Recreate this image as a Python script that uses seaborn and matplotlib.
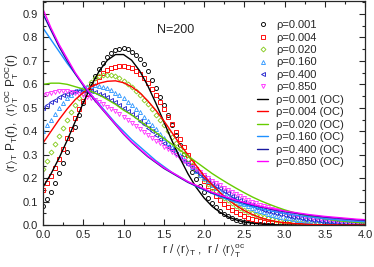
import numpy as np
import pandas as pd
import matplotlib
matplotlib.use("Agg")
import matplotlib.pyplot as plt
import seaborn as sns
from matplotlib.ticker import MultipleLocator

# x grids (r / <r>_T): symbols every 0.05, OC curves every 0.1
r_sim = [round(0.05 * i, 2) for i in range(81)]
r_oc = [round(0.1 * i, 1) for i in range(41)]

rho_labels = ["0.001", "0.004", "0.020", "0.160", "0.400", "0.850"]

# simulation data (symbols), 10 values per row = 0.5 in r
sim_0001 = [0.08, 0.11, 0.14, 0.18, 0.22, 0.265, 0.31, 0.365, 0.42, 0.47,
            0.52, 0.56, 0.60, 0.635, 0.665, 0.69, 0.715, 0.732, 0.745, 0.752,
            0.755, 0.75, 0.74, 0.727, 0.71, 0.685, 0.655, 0.62, 0.585, 0.548,
            0.51, 0.468, 0.425, 0.382, 0.34, 0.302, 0.265, 0.228, 0.195, 0.166,
            0.14, 0.116, 0.095, 0.077, 0.062, 0.049, 0.038, 0.029, 0.022, 0.016,
            0.012, 0.009, 0.006, 0.004, 0.003, 0.002, 0.001, 0.001]
sim_0004 = [0.15, 0.18, 0.21, 0.245, 0.28, 0.325, 0.37, 0.41, 0.455, 0.495,
            0.53, 0.56, 0.59, 0.612, 0.63, 0.647, 0.66, 0.668, 0.675, 0.678,
            0.68, 0.676, 0.67, 0.658, 0.645, 0.626, 0.605, 0.58, 0.555, 0.525,
            0.495, 0.462, 0.43, 0.397, 0.365, 0.332, 0.30, 0.27, 0.24, 0.214,
            0.19, 0.167, 0.145, 0.126, 0.108, 0.092, 0.078, 0.066, 0.055, 0.046,
            0.038, 0.032, 0.026, 0.021, 0.017, 0.014, 0.011, 0.009, 0.007, 0.005,
            0.004, 0.003, 0.002, 0.002, 0.001, 0.001]
sim_0020 = [0.24, 0.275, 0.31, 0.345, 0.38, 0.415, 0.45, 0.48, 0.51, 0.54,
            0.565, 0.59, 0.61, 0.625, 0.635, 0.64, 0.64, 0.638, 0.635, 0.626,
            0.615, 0.603, 0.59, 0.573, 0.555, 0.535, 0.515, 0.493, 0.47, 0.448,
            0.425, 0.40, 0.375, 0.35, 0.325, 0.302, 0.28, 0.257, 0.235, 0.215,
            0.195, 0.177, 0.16, 0.145, 0.13, 0.117, 0.105, 0.094, 0.083, 0.074,
            0.065, 0.057, 0.05, 0.044, 0.038, 0.033, 0.029, 0.025, 0.022, 0.019,
            0.016, 0.014, 0.012, 0.010, 0.009, 0.007, 0.006, 0.005, 0.004, 0.0035,
            0.003, 0.0025, 0.002, 0.0015, 0.001]
sim_0160 = [0.40, 0.425, 0.45, 0.475, 0.50, 0.52, 0.54, 0.555, 0.57, 0.578,
            0.585, 0.59, 0.595, 0.596, 0.595, 0.59, 0.585, 0.575, 0.565, 0.553,
            0.54, 0.525, 0.51, 0.495, 0.48, 0.462, 0.445, 0.428, 0.41, 0.39,
            0.37, 0.352, 0.335, 0.317, 0.30, 0.282, 0.265, 0.247, 0.23, 0.215,
            0.20, 0.186, 0.172, 0.159, 0.147, 0.136, 0.125, 0.115, 0.105, 0.096,
            0.088, 0.08, 0.073, 0.066, 0.06, 0.054, 0.049, 0.044, 0.04, 0.036,
            0.032, 0.029, 0.026, 0.023, 0.021, 0.019, 0.017, 0.015, 0.013, 0.0115,
            0.010, 0.009, 0.008, 0.007, 0.006, 0.005, 0.004, 0.0035, 0.003, 0.0025,
            0.002]
sim_0400 = [0.50, 0.513, 0.525, 0.535, 0.545, 0.553, 0.56, 0.566, 0.57, 0.573,
            0.575, 0.573, 0.57, 0.566, 0.56, 0.553, 0.545, 0.535, 0.525, 0.513,
            0.50, 0.488, 0.475, 0.46, 0.445, 0.43, 0.415, 0.40, 0.385, 0.367,
            0.35, 0.335, 0.32, 0.305, 0.29, 0.275, 0.26, 0.246, 0.232, 0.218,
            0.205, 0.192, 0.18, 0.168, 0.157, 0.146, 0.136, 0.126, 0.117, 0.108,
            0.10, 0.092, 0.085, 0.078, 0.072, 0.066, 0.061, 0.056, 0.051, 0.047,
            0.043, 0.039, 0.036, 0.033, 0.030, 0.027, 0.025, 0.023, 0.021, 0.019,
            0.017, 0.015, 0.014, 0.012, 0.011, 0.010, 0.009, 0.008, 0.007, 0.0065,
            0.006]
sim_0850 = [0.555, 0.56, 0.565, 0.568, 0.57, 0.571, 0.57, 0.568, 0.565, 0.56,
            0.555, 0.548, 0.54, 0.533, 0.525, 0.515, 0.505, 0.495, 0.485, 0.473,
            0.46, 0.448, 0.435, 0.423, 0.41, 0.398, 0.385, 0.373, 0.36, 0.348,
            0.335, 0.323, 0.31, 0.298, 0.285, 0.272, 0.26, 0.248, 0.237, 0.226,
            0.215, 0.202, 0.19, 0.18, 0.17, 0.16, 0.15, 0.141, 0.132, 0.123,
            0.115, 0.107, 0.10, 0.093, 0.087, 0.081, 0.075, 0.07, 0.065, 0.06,
            0.056, 0.052, 0.048, 0.044, 0.041, 0.038, 0.035, 0.032, 0.03, 0.027,
            0.025, 0.023, 0.021, 0.019, 0.018, 0.016, 0.015, 0.013, 0.012, 0.011,
            0.010]

# OC approximation (lines)
oc_0001 = [0.162, 0.219, 0.286, 0.361, 0.441, 0.521, 0.595, 0.658, 0.703, 0.727, 0.727,
           0.703, 0.658, 0.595, 0.521, 0.441, 0.361, 0.286, 0.219, 0.162, 0.116,
           0.080, 0.054, 0.035, 0.022, 0.013, 0.008, 0.0045, 0.0025, 0.0013, 0.0007,
           0.0, 0.0, 0.0, 0.0, 0.0, 0.0, 0.0, 0.0, 0.0, 0.0]
oc_0004 = [0.35, 0.40, 0.45, 0.495, 0.535, 0.565, 0.59, 0.605, 0.613, 0.615, 0.607,
           0.59, 0.565, 0.53, 0.49, 0.445, 0.395, 0.345, 0.30, 0.255, 0.21,
           0.172, 0.138, 0.108, 0.083, 0.062, 0.045, 0.032, 0.022, 0.015, 0.010,
           0.007, 0.005, 0.003, 0.002, 0.001, 0.001, 0.0, 0.0, 0.0, 0.0]
oc_0020 = [0.60, 0.605, 0.605, 0.60, 0.59, 0.58, 0.57, 0.555, 0.535, 0.515, 0.49,
           0.47, 0.445, 0.42, 0.395, 0.37, 0.345, 0.32, 0.295, 0.27, 0.245,
           0.22, 0.198, 0.177, 0.157, 0.138, 0.12, 0.104, 0.09, 0.077, 0.065,
           0.055, 0.046, 0.038, 0.032, 0.026, 0.021, 0.017, 0.014, 0.011, 0.009]
oc_0160 = [0.84, 0.79, 0.74, 0.69, 0.645, 0.60, 0.555, 0.515, 0.475, 0.435, 0.40,
           0.365, 0.335, 0.305, 0.275, 0.25, 0.225, 0.205, 0.185, 0.165, 0.15,
           0.135, 0.12, 0.108, 0.097, 0.087, 0.078, 0.070, 0.062, 0.056, 0.050,
           0.044, 0.039, 0.035, 0.031, 0.027, 0.024, 0.021, 0.018, 0.016, 0.014]
oc_0400 = [0.90, 0.83, 0.76, 0.70, 0.645, 0.595, 0.55, 0.508, 0.468, 0.428, 0.388,
           0.353, 0.322, 0.292, 0.267, 0.242, 0.222, 0.202, 0.182, 0.167, 0.152,
           0.137, 0.125, 0.114, 0.103, 0.094, 0.085, 0.077, 0.070, 0.063, 0.057,
           0.052, 0.047, 0.042, 0.038, 0.034, 0.031, 0.028, 0.025, 0.022, 0.020]
oc_0850 = [0.92, 0.84, 0.77, 0.71, 0.65, 0.60, 0.555, 0.51, 0.47, 0.43, 0.39,
           0.355, 0.325, 0.295, 0.27, 0.245, 0.225, 0.205, 0.185, 0.17, 0.155,
           0.14, 0.128, 0.117, 0.106, 0.097, 0.088, 0.080, 0.073, 0.066, 0.060,
           0.055, 0.050, 0.045, 0.041, 0.037, 0.034, 0.031, 0.028, 0.025, 0.023]

sim_data = [sim_0001, sim_0004, sim_0020, sim_0160, sim_0400, sim_0850]
oc_data = [oc_0001, oc_0004, oc_0020, oc_0160, oc_0400, oc_0850]

colors = ["black", "#ff0000", "#66cc00", "#1e90ff", "#1a1aa0", "#ff00ff"]
marker_colors = ["black", "#ff0000", "#88cc22", "#3399ff", "#2222cc", "#ff33ff"]
markers = ["o", "s", "D", "^", "<", "v"]

sns.set_style("ticks")
plt.rcParams["font.family"] = ["Liberation Sans", "DejaVu Sans"]
plt.rcParams["mathtext.fontset"] = "custom"
plt.rcParams["mathtext.rm"] = "Liberation Sans"
plt.rcParams["mathtext.default"] = "regular"

fig = plt.figure(figsize=(3.74, 2.67), dpi=100)
ax = fig.add_axes([0.115, 0.157, 0.861, 0.839])

for lab, ys, c, m in zip(rho_labels, sim_data, marker_colors, markers):
    df = pd.DataFrame({"r": r_sim[:len(ys)], "P": ys})
    sns.lineplot(data=df, x="r", y="P", ax=ax, linestyle="", marker=m,
                 markersize=2.9 if m != "D" else 2.5, markerfacecolor="none",
                 markeredgecolor=c, markeredgewidth=0.65, color=c,
                 estimator=None, sort=False, label="ρ=" + lab)

for lab, ys, c in zip(rho_labels, oc_data, colors):
    df = pd.DataFrame({"r": r_oc, "P": ys})
    sns.lineplot(data=df, x="r", y="P", ax=ax, color=c, linewidth=1.0,
                 estimator=None, sort=False, label="ρ=" + lab + " (OC)")

ax.set_xlim(0, 4.0)
ax.set_ylim(0, 0.955)
ax.xaxis.set_major_locator(MultipleLocator(0.5))
ax.xaxis.set_minor_locator(MultipleLocator(0.25))
ax.yaxis.set_major_locator(MultipleLocator(0.1))
ax.yaxis.set_minor_locator(MultipleLocator(0.05))
ax.tick_params(which="both", direction="in", top=True, right=True, labelsize=8)
ax.tick_params(which="major", length=4, width=0.8)
ax.tick_params(which="minor", length=2, width=0.8)
for s in ax.spines.values():
    s.set_linewidth(0.9)

ax.set_xlabel(r"r / $\langle$r$\rangle_T$ ,  r / $\langle$r$\rangle_T^{oc}$", fontsize=8.5, labelpad=2)
ax.set_ylabel(r"$\langle$r$\rangle_T$ P$_T$(r),  $\langle$r$\rangle_T^{OC}$ P$_T^{OC}$(r)",
              fontsize=8.5, labelpad=1)

ax.text(1.42, 0.82, "N=200", fontsize=9, transform=ax.transData)

leg = ax.legend(loc="upper left", bbox_to_anchor=(0.665, 0.915), frameon=False,
                fontsize=8, handlelength=1.0, handletextpad=0.7, labelspacing=0.22,
                borderaxespad=0, borderpad=0)

fig.savefig("out.png", dpi=100)
